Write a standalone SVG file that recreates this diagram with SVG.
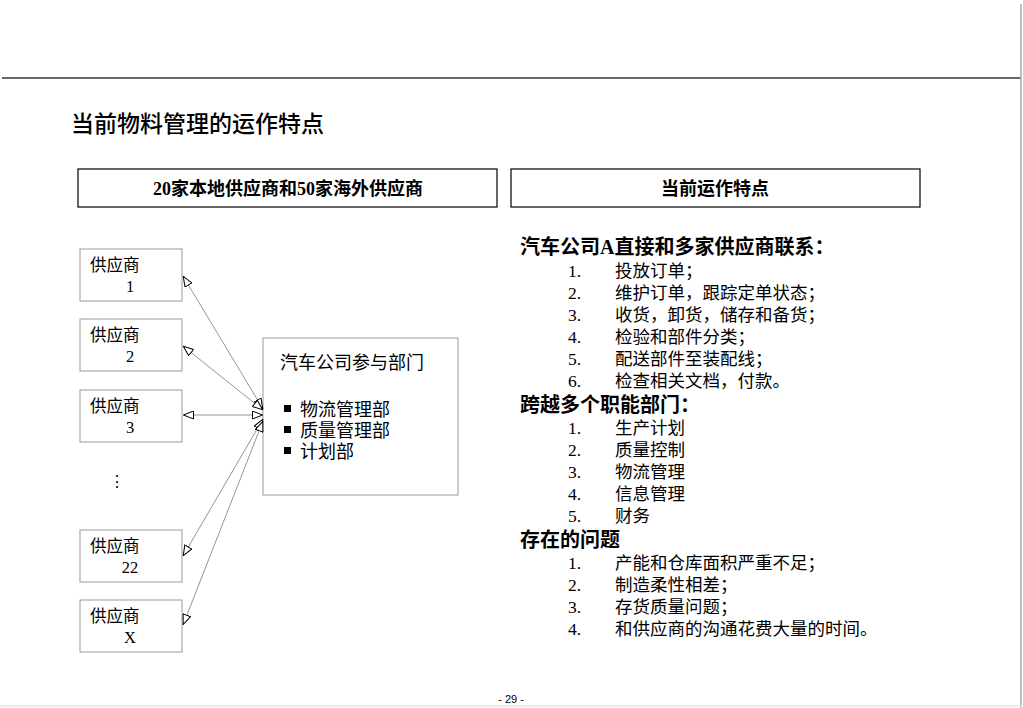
<svg xmlns="http://www.w3.org/2000/svg" width="1023" height="708" viewBox="0 0 1023 708">
<style>
.t{font-family:"Liberation Serif","Noto Sans CJK SC",serif;fill:#000}
.h{font-family:"Liberation Serif","Noto Sans CJK SC",serif;font-weight:bold;fill:#000}
.box{fill:#fff;stroke:#999;stroke-width:1}
.hdr{fill:#fff;stroke:#000;stroke-width:1.2}
.c{stroke:#888;stroke-width:0.9;fill:none;marker-start:url(#ah);marker-end:url(#ah)}
</style>
<defs>
<marker id="ah" viewBox="0 0 11 9" refX="11" refY="4.5" markerWidth="11" markerHeight="9" markerUnits="userSpaceOnUse" orient="auto-start-reverse">
<path d="M0.5,0.5 L10.5,4.5 L0.5,8.5 Z" fill="#fff" stroke="#000" stroke-width="1"/>
</marker>
</defs>
<rect width="1023" height="708" fill="#fff"/>
<line x1="2" y1="78" x2="1021" y2="78" stroke="#333" stroke-width="1.5"/>
<line x1="1021" y1="4" x2="1021" y2="708" stroke="#aaa" stroke-width="1.5"/>
<line x1="0" y1="706" x2="1023" y2="706" stroke="#e6e6e6" stroke-width="1.5"/>
<text x="71" y="132" font-family="'Noto Sans CJK SC',sans-serif" font-size="23" font-weight="500" fill="#000">当前物料管理的运作特点</text>

<g id="header-left"><rect class="hdr" x="78" y="169" width="419" height="38"/><text class="h" x="288" y="195" font-size="18" text-anchor="middle">20家本地供应商和50家海外供应商</text></g>
<g id="header-right"><rect class="hdr" x="511" y="169" width="409" height="38"/><text class="h" x="715" y="195" font-size="18" text-anchor="middle">当前运作特点</text></g>

<g id="supplier-1"><rect class="box" x="80" y="249" width="102" height="52"/><text class="t" x="90" y="271" font-size="16.5">供应商</text><text class="t" x="130" y="292" font-size="16.5" text-anchor="middle">1</text></g>
<g id="supplier-2"><rect class="box" x="80" y="319" width="102" height="52"/><text class="t" x="90" y="341" font-size="16.5">供应商</text><text class="t" x="130" y="362" font-size="16.5" text-anchor="middle">2</text></g>
<g id="supplier-3"><rect class="box" x="80" y="390" width="102" height="52"/><text class="t" x="90" y="412" font-size="16.5">供应商</text><text class="t" x="130" y="433" font-size="16.5" text-anchor="middle">3</text></g>
<g id="ellipsis"><text class="t" x="117" y="487" font-size="16" text-anchor="middle">⋮</text></g>
<g id="supplier-22"><rect class="box" x="80" y="530" width="102" height="52"/><text class="t" x="90" y="552" font-size="16.5">供应商</text><text class="t" x="130" y="573" font-size="16.5" text-anchor="middle">22</text></g>
<g id="supplier-x"><rect class="box" x="80" y="600" width="102" height="52"/><text class="t" x="90" y="622" font-size="16.5">供应商</text><text class="t" x="130" y="643" font-size="16.5" text-anchor="middle">X</text></g>

<g id="company"><rect class="box" x="263" y="338" width="195" height="157"/>
<text class="t" x="280" y="369" font-size="18">汽车公司参与部门</text>
<rect x="284" y="405" width="7" height="7" fill="#000"/><text class="t" x="300" y="416" font-size="18">物流管理部</text>
<rect x="284" y="426" width="7" height="7" fill="#000"/><text class="t" x="300" y="437" font-size="18">质量管理部</text>
<rect x="284" y="447" width="7" height="7" fill="#000"/><text class="t" x="300" y="458" font-size="18">计划部</text>
</g>

<g id="connectors">
<line class="c" x1="263" y1="409" x2="183" y2="276"/>
<line class="c" x1="263" y1="410" x2="183" y2="346"/>
<line class="c" x1="263" y1="415" x2="183" y2="415"/>
<line class="c" x1="263" y1="419" x2="183" y2="556"/>
<line class="c" x1="263" y1="421" x2="183" y2="625"/>
</g>

<g id="features">
<text class="h" x="520" y="254" font-size="20">汽车公司A直接和多家供应商联系：</text>
<g class="t" font-size="17.5">
<text x="568" y="277">1.</text><text x="615" y="277">投放订单；</text>
<text x="568" y="299">2.</text><text x="615" y="299">维护订单，跟踪定单状态；</text>
<text x="568" y="321">3.</text><text x="615" y="321">收货，卸货，储存和备货；</text>
<text x="568" y="343">4.</text><text x="615" y="343">检验和部件分类；</text>
<text x="568" y="365">5.</text><text x="615" y="365">配送部件至装配线；</text>
<text x="568" y="387">6.</text><text x="615" y="387">检查相关文档，付款。</text>
</g>
<text class="h" x="520" y="412" font-size="20">跨越多个职能部门：</text>
<g class="t" font-size="17.5">
<text x="568" y="434">1.</text><text x="615" y="434">生产计划</text>
<text x="568" y="456">2.</text><text x="615" y="456">质量控制</text>
<text x="568" y="478">3.</text><text x="615" y="478">物流管理</text>
<text x="568" y="500">4.</text><text x="615" y="500">信息管理</text>
<text x="568" y="522">5.</text><text x="615" y="522">财务</text>
</g>
<text class="h" x="520" y="547" font-size="20">存在的问题</text>
<g class="t" font-size="17.5">
<text x="568" y="569">1.</text><text x="615" y="569">产能和仓库面积严重不足；</text>
<text x="568" y="591">2.</text><text x="615" y="591">制造柔性相差；</text>
<text x="568" y="613">3.</text><text x="615" y="613">存货质量问题；</text>
<text x="568" y="635">4.</text><text x="615" y="635">和供应商的沟通花费大量的时间。</text>
</g>
</g>
<text x="511" y="703" font-family="'Liberation Sans',sans-serif" font-size="11" text-anchor="middle" fill="#000">- 29 -</text>
</svg>
